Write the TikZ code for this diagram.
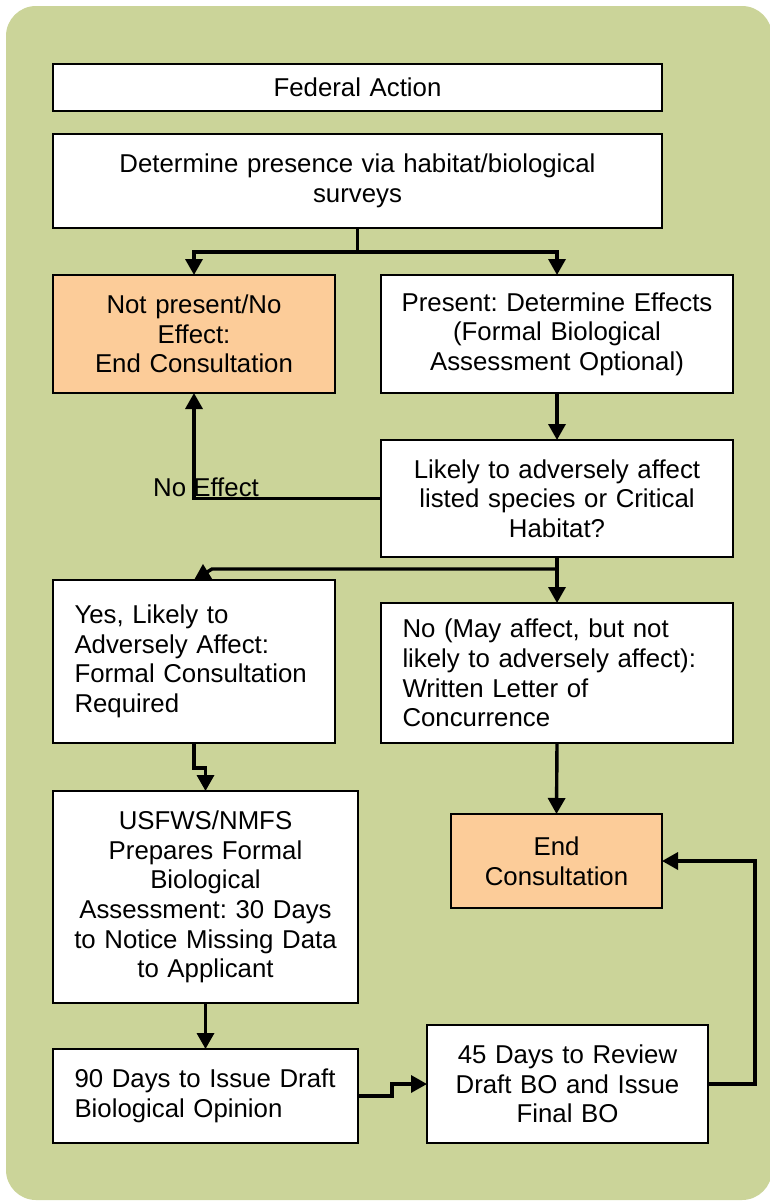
\documentclass[tikz,border=0pt]{standalone}
\usepackage{fontspec}
\setmainfont{Liberation Sans}
\usetikzlibrary{arrows.meta}
\definecolor{bggreen}{RGB}{203,212,153}
\definecolor{boxorange}{RGB}{252,204,153}
\frenchspacing
\begin{document}
\begin{tikzpicture}[x=1pt,y=-1pt,
  every node/.style={font=\fontsize{25.8}{29.6}\selectfont\frenchspacing},
  box/.style={draw=black, line width=1.9pt, fill=white, anchor=north west, inner ysep=0pt, outer sep=0pt},
  cbox/.style={box, align=center, inner xsep=5pt},
  lbox/.style={box, align=left, inner xsep=21.5pt},
  conn/.style={line width=3.4pt},
  arr/.style={conn, -{Triangle[length=16pt,width=17pt]}},
  lbl/.style={inner sep=0pt}
]
\useasboundingbox (0,0) rectangle (769,1202);
\fill[bggreen, rounded corners=30pt] (6,6) rectangle (772,1200);

\node[cbox, minimum width=609pt, minimum height=47pt, text width=599pt] (fa) at (53,64) {Federal Action};
\node[cbox, minimum width=609pt, minimum height=94pt, text width=599pt] (det) at (53,134) {Determine presence via habitat/biological\\surveys\par\vspace{12pt}};
\node[cbox, fill=boxorange, minimum width=282pt, minimum height=118pt, text width=272pt] (np) at (53,275) {Not present/No\\Effect:\\End Consultation};
\node[cbox, minimum width=352pt, minimum height=118pt, text width=342pt] (pr) at (381,275) {Present: Determine Effects\\(Formal Biological\\Assessment Optional)};
\node[cbox, minimum width=352pt, minimum height=117pt, text width=342pt] (lik) at (381,440) {Likely to adversely affect\\listed species or Critical\\Habitat?};
\node[lbox, minimum width=282pt, minimum height=163pt, text width=239pt] (yes) at (53,580) {Yes, Likely to\\Adversely Affect:\\Formal Consultation\\Required\par\vspace{20pt}};
\node[lbox, minimum width=352pt, minimum height=140pt, text width=309pt] (no) at (381,603) {No (May affect, but not\\likely to adversely affect):\\Written Letter of\\Concurrence};
\node[cbox, minimum width=305pt, minimum height=212pt, text width=295pt] (us) at (53,791) {USFWS/NMFS\\Prepares Formal\\Biological\\Assessment: 30 Days\\to Notice Missing Data\\to Applicant\par\vspace{10pt}};
\node[cbox, fill=boxorange, minimum width=211pt, minimum height=94pt, text width=201pt] (end) at (451,814) {End\\Consultation\par\vspace{12pt}};
\node[lbox, minimum width=305pt, minimum height=94pt, text width=262pt] (d90) at (53,1049) {90 Days to Issue Draft\\Biological Opinion\par\vspace{12pt}};
\node[cbox, minimum width=281pt, minimum height=118pt, text width=271pt] (d45) at (427,1025) {45 Days to Review\\Draft BO and Issue\\Final BO};

\draw[conn] (det.south) -- ++(0,24) coordinate (s1);
\draw[arr] (s1) -| (np.north);
\draw[arr] (s1) -| (pr.north);
\draw[arr] (pr.south) -- (lik.north);
\draw[arr] (lik.west) -| (np.south);
\node[lbl] (ne) at (206,487) {No Effect};
\draw[conn] (lik.south) -- ++(0,12) coordinate (s2);
\draw[arr] (s2) -- ([xshift=18pt]s2 -| yes.north) -- (yes.north);
\draw[arr] (s2) -- (no.north);
\draw[arr] (yes.south) -- ++(0,25) -| (us.north);
\draw[arr] (no.south) -- (end.north);
\draw[arr] (us.south) -- (d90.north);
\draw[arr] (d90.east) -- ++(34,0) |- (d45.west);
\draw[arr] (d45.east) -- ++(47,0) |- (end.east);
\end{tikzpicture}
\end{document}
